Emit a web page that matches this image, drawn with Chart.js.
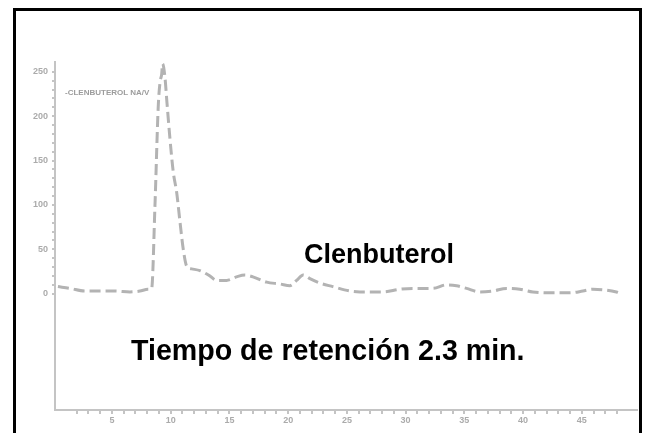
<!DOCTYPE html>
<html>
<head>
<meta charset="utf-8">
<script src="https://cdn.jsdelivr.net/npm/chart.js@4/dist/chart.umd.min.js"></script>
<style>
    body { margin: 0; background: #fff; overflow: hidden; }
    #wrap { position: relative; width: 646px; height: 433px; overflow: hidden; }
    #chart { position: absolute; left: 0; top: 0; }
    #frame { position: absolute; left: 13px; top: 8px; width: 623px; height: 500px; border: 3px solid #000; box-sizing: content-box; pointer-events: none; }
    .note { position: absolute; font-family: Arial, "Liberation Sans", sans-serif; font-weight: bold; color: #000; white-space: nowrap; }
    #trace { position: absolute; left: 65px; top: 88px; font-family: Arial, "Liberation Sans", sans-serif; font-weight: bold; font-size: 8px; color: #9c9c9c; white-space: nowrap; }
</style>
</head>
<body>
<div id="wrap">
    <canvas id="chart" width="646" height="433"></canvas>
    <div id="frame"></div>
    <div id="trace">-CLENBUTEROL NA/V</div>
    <div class="note" style="left:304px; top:239px; font-size:27px;">Clenbuterol</div>
    <div class="note" style="left:131px; top:334px; font-size:28.6px;">Tiempo de retención 2.3 min.</div>
</div>
<script>
// retention axis (chart units) and detector response
const times = [0.4, 1.43, 2.7, 3.98, 5.26, 6.53, 7.38, 8.06, 8.38, 8.66, 8.94, 9.09, 9.23, 9.31,
    9.51, 9.66, 9.94, 10.22, 10.51, 10.79, 11.07, 11.36, 11.78, 12.49, 13.34, 13.91, 14.76,
    15.61, 16.32, 17.0, 18.17, 19.3, 20.15, 20.72, 21.28, 21.85, 22.7, 23.81, 25.26, 26.1,
    28.06, 29.51, 30.62, 32.32, 33.49, 34.34, 35.19, 36.32, 37.43, 38.59, 39.72, 40.83,
    41.99, 43.98, 45.09, 45.94, 47.95, 48.38];
const response = [8, 6, 3, 3, 3, 2, 3, 5, 6, 99, 211, 238, 247, 259,
    244, 219, 174, 137, 114, 81, 50, 31, 28, 26, 20, 15, 15,
    19, 21, 19, 13, 11, 9, 15, 21, 17, 12, 8, 3, 2,
    2, 5, 6, 6, 10, 9, 6, 2, 3, 6, 5, 2,
    1, 1, 3, 5, 2, 0];
const xTickLabels = [5, 10, 15, 20, 25, 30, 35, 40, 45];
const yTickLabels = [0, 50, 100, 150, 200, 250];

const axisGray = "#c4c4c4";
const labelGray = "#ababab";

const ctx = document.getElementById("chart");
new Chart(ctx, {
    type: "line",
    data: {
        datasets: [
            {
                data: times.map((t, i) => ({ x: t, y: response[i] })),
                borderColor: "#b3b3b3",
                borderWidth: 3,
                borderDash: [11, 5],
                pointRadius: 0,
                cubicInterpolationMode: "monotone",
                fill: false,
            },
        ],
    },
    options: {
        responsive: false,
        animation: false,
        layout: { padding: { top: 62, right: 9, left: 0, bottom: 0 } },
        plugins: { legend: { display: false }, tooltip: { enabled: false } },
        scales: {
            x: {
                type: "linear",
                min: 0.15,
                max: 49.7,
                afterFit(scale) { scale.height = 23; },
                border: { color: axisGray, width: 2 },
                grid: {
                    drawOnChartArea: false,
                    tickLength: 4,
                    lineWidth: 2,
                    color: (c) => Number.isInteger(c.tick.value) ? axisGray : "rgba(0,0,0,0)",
                },
                ticks: {
                    stepSize: 1,
                    autoSkip: false,
                    maxRotation: 0,
                    padding: 1,
                    color: labelGray,
                    font: { size: 9, weight: "bold" },
                    callback: (v) => xTickLabels.includes(v) ? String(v) : "",
                },
            },
            y: {
                min: -131,
                max: 261,
                afterFit(scale) { scale.width = 55; },
                border: { color: axisGray, width: 2 },
                grid: {
                    drawOnChartArea: false,
                    tickLength: 3,
                    lineWidth: 2,
                    color: (c) => (c.tick.value >= 0 && c.tick.value % 10 === 0) ? axisGray : "rgba(0,0,0,0)",
                },
                ticks: {
                    stepSize: 10,
                    autoSkip: false,
                    padding: 4,
                    color: labelGray,
                    font: { size: 9, weight: "bold" },
                    callback: (v) => yTickLabels.includes(v) ? String(v) : "",
                },
            },
        },
    },
});
</script>
</body>
</html>
